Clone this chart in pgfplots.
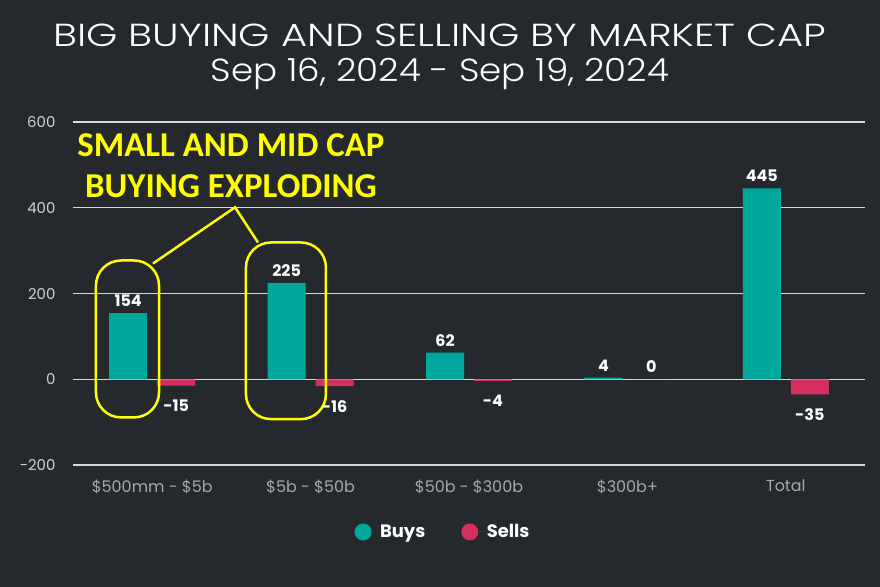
\documentclass[border=0pt]{standalone}
\usepackage{fontspec}
\setmainfont{Poppins}
\newfontfamily\annfont{Carlito}
\newfontfamily\titlefontA{Poppins Light}[FakeStretch=1.26]
\newfontfamily\titlefontB{Poppins Light}[FakeStretch=1.12]
\usepackage{pgfplots}
\pgfplotsset{compat=1.18}
\definecolor{bg}{HTML}{25292E}
\definecolor{buycol}{HTML}{00A79D}
\definecolor{sellcol}{HTML}{D52E5F}
\definecolor{gridcol}{HTML}{D8D8D8}
\definecolor{ytickcol}{HTML}{D0D0D0}
\definecolor{xtickcol}{HTML}{A8A8A8}
\definecolor{ann}{HTML}{FFFF00}
\begin{document}
\begin{tikzpicture}
\fill[bg] (-73bp,-122bp) rectangle (807bp,465bp);
\useasboundingbox (-73bp,-122bp) rectangle (807bp,465bp);
\begin{axis}[
  at={(0,0)}, anchor=south west,
  scale only axis, width=792bp, height=343bp,
  xmin=-0.5, xmax=4.5, ymin=-200, ymax=600,
  clip=false,
  axis line style={draw=none},
  major tick length=0pt,
  ytick={-200,0,200,400,600},
  ymajorgrids, grid style={gridcol, line width=1.2bp},
  xtick={0,1,2,3,4},
  xticklabels={\$500mm - \$5b, \$5b - \$50b, \$50b - \$300b, \$300b+, Total},
  xticklabel style={text=xtickcol, font=\fontsize{16}{16}\selectfont, yshift=-11bp},
  yticklabel style={text=ytickcol, font=\fontsize{15}{15}\selectfont, xshift=-14bp},
  /pgf/number format/assume math mode=true,
  ybar=10bp, bar width=38bp,
  nodes near coords,
  visualization depends on={y \as \yval},
  nodes near coords style={text=white, font=\bfseries\fontsize{16}{16}\selectfont,
    yshift={(\yval<0)*(-11)+(\yval>=0)*3}},
  legend style={at={(axis description cs:0.4672,-0.1953)}, anchor=center,
    draw=none, fill=none, text=white, font=\bfseries\fontsize{18}{18}\selectfont,
    legend columns=2, /tikz/every even column/.append style={column sep=34bp}},
]
\addplot[fill=buycol, draw=none,
  legend image code/.code={\fill[buycol] (0bp,0bp) circle (8.5bp); \path (-8.5bp,0bp) -- (15bp,0bp);}]
  coordinates {(0,154) (1,225) (2,62) (3,4) (4,445)};
\addlegendentry{Buys}
\addplot[fill=sellcol, draw=none,
  legend image code/.code={\fill[sellcol] (0bp,0bp) circle (8.5bp); \path (-8.5bp,0bp) -- (15bp,0bp);}]
  coordinates {(0,-15) (1,-16) (2,-4) (3,0) (4,-35)};
\addlegendentry{Sells}
% annotation
\draw[ann, line width=2.5bp, rounded corners=25bp] (axis cs:-0.355,-89) rectangle (axis cs:0.043,277);
\draw[ann, line width=2.5bp, rounded corners=25bp] (axis cs:0.592,-93) rectangle (axis cs:1.097,319);
\draw[ann, line width=2.5bp] (axis cs:0.005,270) -- (axis cs:0.523,401) -- (axis cs:0.668,319);
\node[text=ann, font=\annfont\bfseries\fontsize{35}{35}\selectfont] at (axis cs:0.497,545) {SMALL AND MID CAP};
\node[text=ann, font=\annfont\bfseries\fontsize{35}{35}\selectfont] at (axis cs:0.497,450) {BUYING EXPLODING};
\end{axis}
\node[text=white, font=\titlefontA\fontsize{32}{32}\selectfont] at (367bp,430bp) {BIG BUYING AND SELLING BY MARKET CAP};
\node[text=white, font=\titlefontB\fontsize{32}{32}\selectfont] at (367bp,391bp) {Sep 16, 2024 - Sep 19, 2024};
\end{tikzpicture}
\end{document}
